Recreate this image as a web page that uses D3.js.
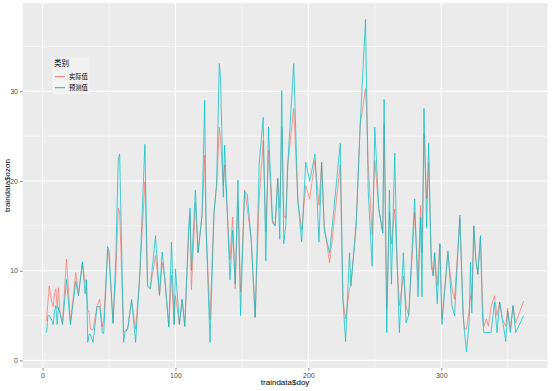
<!DOCTYPE html>
<html><head><meta charset="utf-8">
<script src="https://cdn.jsdelivr.net/npm/d3@7"></script>
<style>body{margin:0;background:#fff}svg{display:block}</style>
</head><body>
<svg id="c" width="554" height="391"></svg>
<script>
const doy = [3,4,5,7,8,9,10,11,12,13,15,18,21,25,27,30,32,33,34,35,36,38,41,43,45,46,49,50,53,55,57,58,61,62,64,67,70,73,77,79,81,85,88,90,92,95,97,99,100,103,105,107,110,111,112,115,117,120,122,123,126,129,131,133,134,136,137,141,143,145,147,149,152,154,157,160,163,166,168,170,173,175,177,178.5,180,181.5,183,184.5,189,192,195,198,201,205,208,210,212,216,224,226,228,231,232,236,239,243,244,245,248,250,253,256,257,259,261,262.5,265,266.5,268.5,271.5,273.5,275.5,280,282.5,284.5,285.5,287,289,290.5,292.5,294,295,297,299,300.5,305,308,310,314,316.5,317.5,319,321,322,323,324.5,326,327.5,329.5,331,332,334,335.5,337.5,340,342,344,346,348.5,350,352,354,356,362];
const actual = [4.4,6.5,8.3,6.5,6.0,7.4,8.0,5.8,8.1,5.5,4.2,11.3,4.2,9.8,7.4,10.9,8.7,8.9,5.5,5.5,3.5,3.4,6.1,6.8,3.7,4.4,12.4,11.5,4.2,9.0,17.0,16.7,3.1,3.3,3.5,6.6,3.5,9.1,19.9,8.3,8.0,11.7,7.2,10.9,9.1,3.8,9.5,4.0,7.2,4.0,6.8,3.8,14.3,16.2,7.9,17.6,12.0,16.2,22.9,15.0,4.5,16.5,19.5,26.0,24.7,19.5,21.8,11.2,16.0,8.0,17.8,7.6,19.0,17.0,13.5,4.8,18.0,24.5,14.3,23.4,15.3,15.0,20.3,17.0,26.0,16.2,15.8,21.8,28.1,18.0,14.5,19.5,18.0,22.3,17.3,22.1,15.0,10.9,21.8,6.8,4.6,8.0,8.3,15.5,26.2,30.3,27.5,22.0,14.0,22.3,16.9,14.2,26.4,5.9,16.5,13.0,16.9,11.8,6.1,9.4,6.1,5.0,16.5,9.0,17.3,12.0,25.3,18.0,22.0,11.5,9.4,12.0,8.3,13.0,4.6,11.9,8.1,6.8,15.8,5.0,3.5,3.5,5.5,7.2,6.8,15.0,11.3,9.6,13.7,6.8,3.8,4.6,3.8,6.0,7.2,5.0,6.5,4.6,3.8,5.8,3.5,6.1,4.2,6.6];
const predicted = [3.1,5.0,5.0,4.5,4.0,5.5,6.1,4.0,5.9,5.3,4.0,9.0,4.0,8.8,7.2,11.0,7.4,9.0,2.0,2.9,2.9,2.0,6.0,6.0,3.1,3.0,12.7,12.2,4.1,11.0,22.5,23.0,2.0,3.1,3.5,6.8,2.0,9.1,24.1,8.3,8.0,13.9,7.3,12.1,9.1,3.7,13.2,4.0,10.2,4.0,6.8,3.8,15.0,17.0,10.0,19.0,12.0,16.2,29.0,15.0,2.0,16.5,19.7,33.1,31.3,18.2,24.0,9.0,14.5,8.5,20.1,5.0,18.8,18.5,13.5,4.8,21.9,27.1,11.1,26.0,15.6,15.0,20.3,13.5,30.1,13.0,15.0,21.8,33.1,18.0,13.2,22.1,20.0,23.0,13.2,22.1,14.5,12.0,24.2,6.8,2.1,12.0,8.3,15.0,26.2,38.0,28.7,19.1,10.5,26.0,16.9,14.2,29.1,3.1,19.0,8.5,23.1,12.4,3.1,12.0,4.2,5.0,18.0,7.1,16.0,7.1,28.1,14.8,24.2,10.5,9.4,12.0,6.3,13.0,4.0,12.2,6.1,5.0,16.2,5.0,3.1,1.0,4.2,10.9,5.3,15.0,11.3,9.6,13.9,5.0,3.1,3.1,3.1,3.1,6.5,3.1,6.5,4.6,2.1,5.5,3.1,6.1,3.1,5.0];
const seriesNames = ["实际值","预测值"];
const xTicks = [0,100,200,300];
const xMinor = [50,150,250,350];
const yTicks = [0,10,20,30];
const yMinor = [5,15,25,35];

const colors = ["#F8766D","#00BFC4"];
const svg = d3.select("#c");
const L = 22.7, R = 547.5, T = 3, B = 368;

function expand(ext){const r=ext[1]-ext[0];return [ext[0]-0.05*r, ext[1]+0.05*r];}
const x = d3.scaleLinear().domain(expand(d3.extent(doy))).range([L,R]);
const allY = actual.concat(predicted);
const y = d3.scaleLinear().domain(expand(d3.extent(allY))).range([B,T]);

svg.append("rect").attr("x",0).attr("y",0).attr("width",554).attr("height",391).attr("fill","#fff");
svg.append("rect").attr("x",L).attr("y",T).attr("width",R-L).attr("height",B-T).attr("fill","#EBEBEB");

const g = svg.append("g");
g.selectAll(".xm").data(xMinor).join("line").attr("x1",d=>x(d)).attr("x2",d=>x(d)).attr("y1",T).attr("y2",B).attr("stroke","#fff").attr("stroke-width",0.55);
g.selectAll(".ym").data(yMinor).join("line").attr("y1",d=>y(d)).attr("y2",d=>y(d)).attr("x1",L).attr("x2",R).attr("stroke","#fff").attr("stroke-width",0.55);
g.selectAll(".xM").data(xTicks).join("line").attr("x1",d=>x(d)).attr("x2",d=>x(d)).attr("y1",T).attr("y2",B).attr("stroke","#fff").attr("stroke-width",1.1);
g.selectAll(".yM").data(yTicks).join("line").attr("y1",d=>y(d)).attr("y2",d=>y(d)).attr("x1",L).attr("x2",R).attr("stroke","#fff").attr("stroke-width",1.1);

const series = [actual, predicted];
const line = d3.line().x(d=>x(d[0])).y(d=>y(d[1]));
series.forEach((vals,i)=>{
  svg.append("path").datum(doy.map((d,j)=>[d,vals[j]]))
    .attr("d",line).attr("fill","none").attr("stroke",colors[i]).attr("stroke-width",0.8).attr("stroke-opacity",0.9).attr("stroke-linejoin","round");
});

// axes
const xAxis = d3.axisBottom(x).tickValues(xTicks).tickSize(2.7).tickPadding(2).tickFormat(d3.format("d"));
const xa = svg.append("g").attr("transform",`translate(0,${B})`).call(xAxis);
const yAxis = d3.axisLeft(y).tickValues(yTicks).tickSize(2.7).tickPadding(2).tickFormat(d3.format("d"));
const ya = svg.append("g").attr("transform",`translate(${L},0)`).call(yAxis);
[xa,ya].forEach(a=>{
  a.select(".domain").remove();
  a.selectAll(".tick line").attr("stroke","#333").attr("stroke-width",0.6);
  a.selectAll(".tick text").attr("fill","#4D4D4D").style("font-family","'Liberation Sans',Arial,sans-serif").style("font-size","7px");
});

svg.append("text").attr("x",(L+R)/2).attr("y",385).attr("text-anchor","middle")
  .style("font-family","'Liberation Sans',Arial,sans-serif").style("font-size","8px").attr("fill","#000").text("traindata$doy");
svg.append("text").attr("transform",`translate(10,${(T+B)/2}) rotate(-90)`).attr("text-anchor","middle")
  .style("font-family","'Liberation Sans',Arial,sans-serif").style("font-size","8px").attr("fill","#000").text("traindata$ozon");

// legend
const lg = svg.append("g");
lg.append("rect").attr("x",52).attr("y",57).attr("width",38).attr("height",37).attr("fill","#F1F1F1");
lg.append("text").attr("x",54).attr("y",66).style("font-family","'Noto Sans CJK SC',sans-serif").style("font-size","7.5px").attr("fill","#000").text("类别");
seriesNames.forEach((n,i)=>{
  const cy = 76.7 + i*11;
  lg.append("rect").attr("x",54).attr("y",cy-5.5).attr("width",12).attr("height",11).attr("fill","#F2F2F2").attr("stroke","#fff").attr("stroke-width",0.5);
  lg.append("line").attr("x1",55).attr("x2",65).attr("y1",cy).attr("y2",cy).attr("stroke",colors[i]).attr("stroke-width",1);
  lg.append("text").attr("x",69).attr("y",cy+2.3).style("font-family","'Noto Sans CJK SC',sans-serif").style("font-size","6.3px").attr("fill","#000").text(n);
});
</script>
</body></html>
